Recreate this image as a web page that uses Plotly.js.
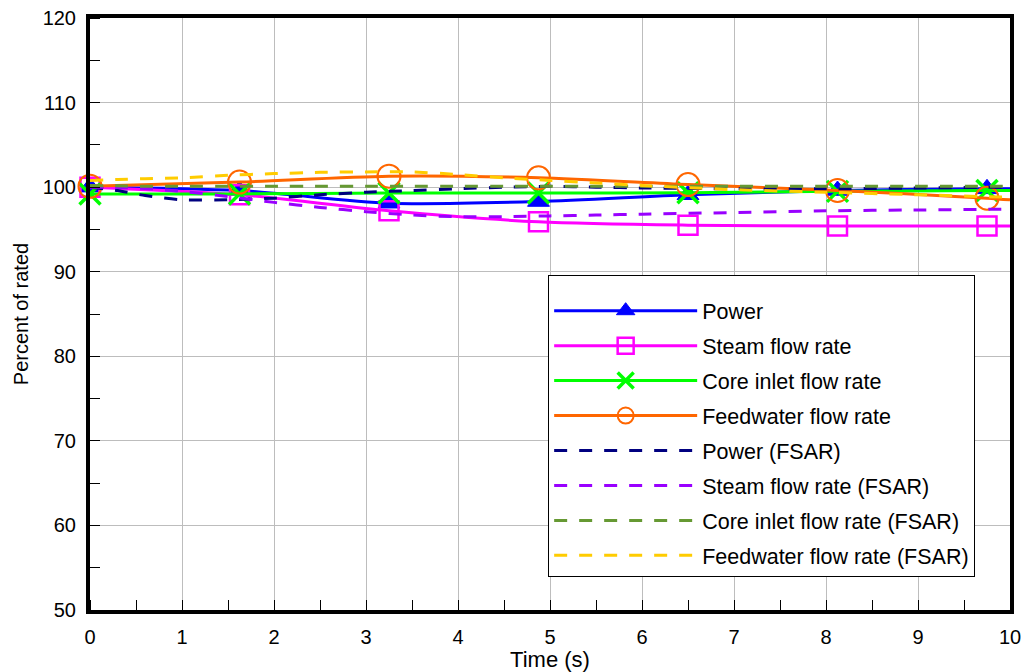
<!DOCTYPE html>
<html>
<head>
<meta charset="utf-8">
<script src="https://cdn.plot.ly/plotly-3.0.1.min.js"></script>
<style>html,body{margin:0;padding:0;background:#fff;}#chart{width:1024px;height:672px;}</style>
</head>
<body>
<div id="chart"></div>
<script>
// ---- data ----
const timeSolid = [0, 1.625, 3.25, 4.875, 6.5, 8.125, 9.75, 10];
const markerTimes = [0, 1.625, 3.25, 4.875, 6.5, 8.125, 9.75];
const power        = [100, 99.6, 98.1, 98.3, 99.1, 99.6, 99.8, 99.8];
const steamFlow    = [100, 99.1, 97.2, 95.9, 95.5, 95.4, 95.4, 95.4];
const coreInlet    = [99.2, 99.2, 99.3, 99.3, 99.35, 99.5, 99.6, 99.6];
const feedwater    = [100.1, 100.6, 101.3, 101.1, 100.3, 99.6, 98.7, 98.5];

const timeFsar = [0, 0.3, 0.6, 1, 1.5, 2, 2.5, 3, 3.5, 4, 4.5, 5, 5.5, 6, 7, 8, 9, 10];
const powerFsar     = [100, 99.6, 99.0, 98.5, 98.5, 98.7, 99.1, 99.4, 99.6, 99.8, 100.0, 100.1, 100.0, 99.9, 99.8, 99.8, 99.9, 100.0];
const steamFsar     = [100, 99.95, 99.85, 99.5, 98.9, 98.2, 97.6, 97.1, 96.7, 96.5, 96.5, 96.6, 96.7, 96.8, 97.0, 97.2, 97.3, 97.4];
const coreFsar      = [100.2, 100.15, 100.1, 100.1, 100.1, 100.1, 100.1, 100.1, 100.1, 100.1, 100.1, 100.1, 100.1, 100.1, 100.1, 100.1, 100.1, 100.1];
const feedwaterFsar = [100.8, 100.9, 101.0, 101.1, 101.4, 101.6, 101.75, 101.8, 101.8, 101.5, 101.1, 100.8, 100.5, 100.2, 99.7, 99.4, 99.1, 98.8];

const seriesNames = ["Power", "Steam flow rate", "Core inlet flow rate", "Feedwater flow rate",
  "Power (FSAR)", "Steam flow rate (FSAR)", "Core inlet flow rate (FSAR)", "Feedwater flow rate (FSAR)"];

// ---- styling ----
function sizesFor(times, s) { return times.map(t => markerTimes.some(m => Math.abs(m - t) < 1e-6) ? s : 0); }

const solidDefs = [
  {y: power,     color: '#0000FF', symbol: 'triangle-up', size: 19, lw: 1},
  {y: steamFlow, color: '#FF00FF', symbol: 'square-open', size: 19, lw: 2.5},
  {y: coreInlet, color: '#00FF00', symbol: 'x-thin-open', size: 21, lw: 3.5},
  {y: feedwater, color: '#FF6600', symbol: 'circle-open', size: 23, lw: 2}
];
const dashDefs = [
  {y: powerFsar,     color: '#000080'},
  {y: steamFsar,     color: '#9900FF'},
  {y: coreFsar,      color: '#669933'},
  {y: feedwaterFsar, color: '#FFCC00'}
];

const traces = [];
solidDefs.forEach((d, i) => {
  traces.push({
    x: timeSolid, y: d.y, name: seriesNames[i], type: 'scatter', mode: 'lines+markers',
    legendgroup: 'g' + i, cliponaxis: false,
    line: {color: d.color, width: 3, shape: 'spline', smoothing: 0.8},
    marker: {symbol: d.symbol, size: sizesFor(timeSolid, d.size), color: d.color, opacity: 1,
             line: {color: d.color, width: d.lw}}
  });
});
dashDefs.forEach((d, i) => {
  traces.push({
    x: timeFsar, y: d.y, name: seriesNames[i + 4], type: 'scatter', mode: 'lines',
    legendgroup: 'g' + (i + 4),
    line: {color: d.color, width: 3, dash: '13px,12px', shape: 'spline', smoothing: 0.6}
  });
});

const narrow = 'Liberation Sans Narrow, Arial Narrow, Liberation Sans, Arial, sans-serif';
const regular = 'Liberation Sans, Arial, sans-serif';

const layout = {
  width: 1024, height: 672,
  margin: {l: 90, r: 14, t: 18, b: 62},
  paper_bgcolor: '#fff', plot_bgcolor: '#fff',
  showlegend: true,
  font: {family: regular, color: '#000'},
  xaxis: {
    range: [0, 10], dtick: 1, tick0: 0,
    showgrid: true, gridcolor: '#bdbdbd', gridwidth: 1,
    zeroline: false,
    showline: true, linecolor: '#000', linewidth: 4, mirror: true,
    ticks: 'outside', ticklen: 6, tickcolor: 'rgba(0,0,0,0)',
    tickfont: {family: narrow, size: 20, color: '#000'},
    minor: {dtick: 0.5, ticks: 'inside', ticklen: 10, tickcolor: '#000', tickwidth: 1, showgrid: false},
    title: {text: 'Time (s)', font: {family: narrow, size: 22, color: '#000'}, standoff: 4}
  },
  yaxis: {
    range: [50, 120], dtick: 10, tick0: 50,
    showgrid: true, gridcolor: '#bdbdbd', gridwidth: 1,
    zeroline: false,
    showline: true, linecolor: '#000', linewidth: 4, mirror: true,
    ticks: 'outside', ticklen: 6, tickcolor: 'rgba(0,0,0,0)',
    tickfont: {family: narrow, size: 20, color: '#000'},
    minor: {dtick: 5, ticks: 'inside', ticklen: 10, tickcolor: '#000', tickwidth: 1, showgrid: false},
    title: {text: 'Percent of rated', font: {family: regular, size: 20, color: '#000'}, standoff: 10}
  },
  legend: {
    x: 0.498, y: 0.566, xanchor: 'left', yanchor: 'top',
    bgcolor: '#fff', bordercolor: '#000', borderwidth: 1,
    font: {family: regular, size: 21.5, color: '#000'},
    title: {text: ' ', font: {size: 11}},
    itemwidth: 143, traceorder: 'grouped', tracegroupgap: 4,
    itemsizing: 'trace'
  }
};

Plotly.newPlot('chart', traces, layout, {displayModeBar: false, staticPlot: true});
</script>
</body>
</html>
